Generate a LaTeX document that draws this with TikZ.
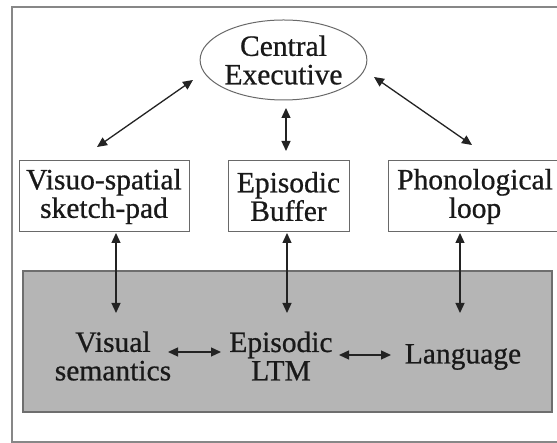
\documentclass[tikz,border=0pt]{standalone}
\usepackage{fontspec}
\setmainfont{Liberation Serif}[FakeBold=0.7]
\usetikzlibrary{arrows.meta,shapes.geometric}
\definecolor{framecol}{RGB}{135,135,135}
\definecolor{boxline}{RGB}{105,105,105}
\definecolor{ltmfill}{RGB}{181,181,181}
\definecolor{ltmline}{RGB}{110,110,110}
\definecolor{inkcol}{RGB}{25,25,25}
\definecolor{arrowcol}{RGB}{35,35,35}
\begin{document}
\begin{tikzpicture}[x=1pt,y=1pt,
  lbl/.style={font=\fontsize{29.5}{28.5}\selectfont, align=center, inner sep=0pt, text=inkcol},
  compbox/.style={lbl, draw=boxline, line width=1pt, minimum height=71pt},
  exec/.style={lbl, ellipse, draw=boxline, line width=1pt, minimum width=165pt, minimum height=80pt},
  ltmbox/.style={draw=ltmline, fill=ltmfill, line width=1.6pt},
  outerframe/.style={draw=framecol, line width=1.3pt},
  biarrow/.style={arrowcol, line width=1.3pt, {Triangle[length=10pt,width=9pt]}-{Triangle[length=10pt,width=9pt]}}
]
\useasboundingbox (0,0) rectangle (557,443);
\clip (0,0) rectangle (557,443);
\fill[white] (0,0) rectangle (557,443);
% outer frame
\draw[outerframe] (12,1) rectangle (575,436);
% long-term memory region
\draw[ltmbox] (23,31) rectangle (552,172);
% nodes
\node[exec] (ce) at (283.5,383) {Central\\Executive};
\node[compbox, minimum width=170pt] (vs) at (104,246.5) {Visuo-spatial\\sketch-pad};
\node[compbox, minimum width=121pt] (eb) at (288.5,246.5) {Episodic\\Buffer};
\node[compbox, minimum width=174pt] (pl) at (475,246.5) {Phonological\\loop};
\node[lbl] (vsem) at (113,87) {Visual\\semantics};
\node[lbl] (eltm) at (281,87) {Episodic\\LTM};
\node[lbl] (lang) at (463,86) {Language};
% connector end points
\coordinate (ceL) at (193,363);
\coordinate (vsT) at (97,296);
\coordinate (ceB) at (286,335);
\coordinate (ebT) at (286,292);
\coordinate (ceR) at (374,366);
\coordinate (plT) at (472,298);
\coordinate (vsB) at (116,210);
\coordinate (vsemT) at (116,130);
\coordinate (ebB) at (287,210);
\coordinate (eltmT) at (287,130);
\coordinate (plB) at (460,210);
\coordinate (langT) at (460,130);
\coordinate (vsemR) at (168,91);
\coordinate (eltmL) at (221,91);
\coordinate (eltmR) at (339,88);
\coordinate (langL) at (391,88);
% connectors
\draw[biarrow] (ceL) -- (vsT);
\draw[biarrow] (ceB) -- (ebT);
\draw[biarrow] (ceR) -- (plT);
\draw[biarrow] (vsB) -- (vsemT);
\draw[biarrow] (ebB) -- (eltmT);
\draw[biarrow] (plB) -- (langT);
\draw[biarrow] (vsemR) -- (eltmL);
\draw[biarrow] (eltmR) -- (langL);
\end{tikzpicture}
\end{document}
